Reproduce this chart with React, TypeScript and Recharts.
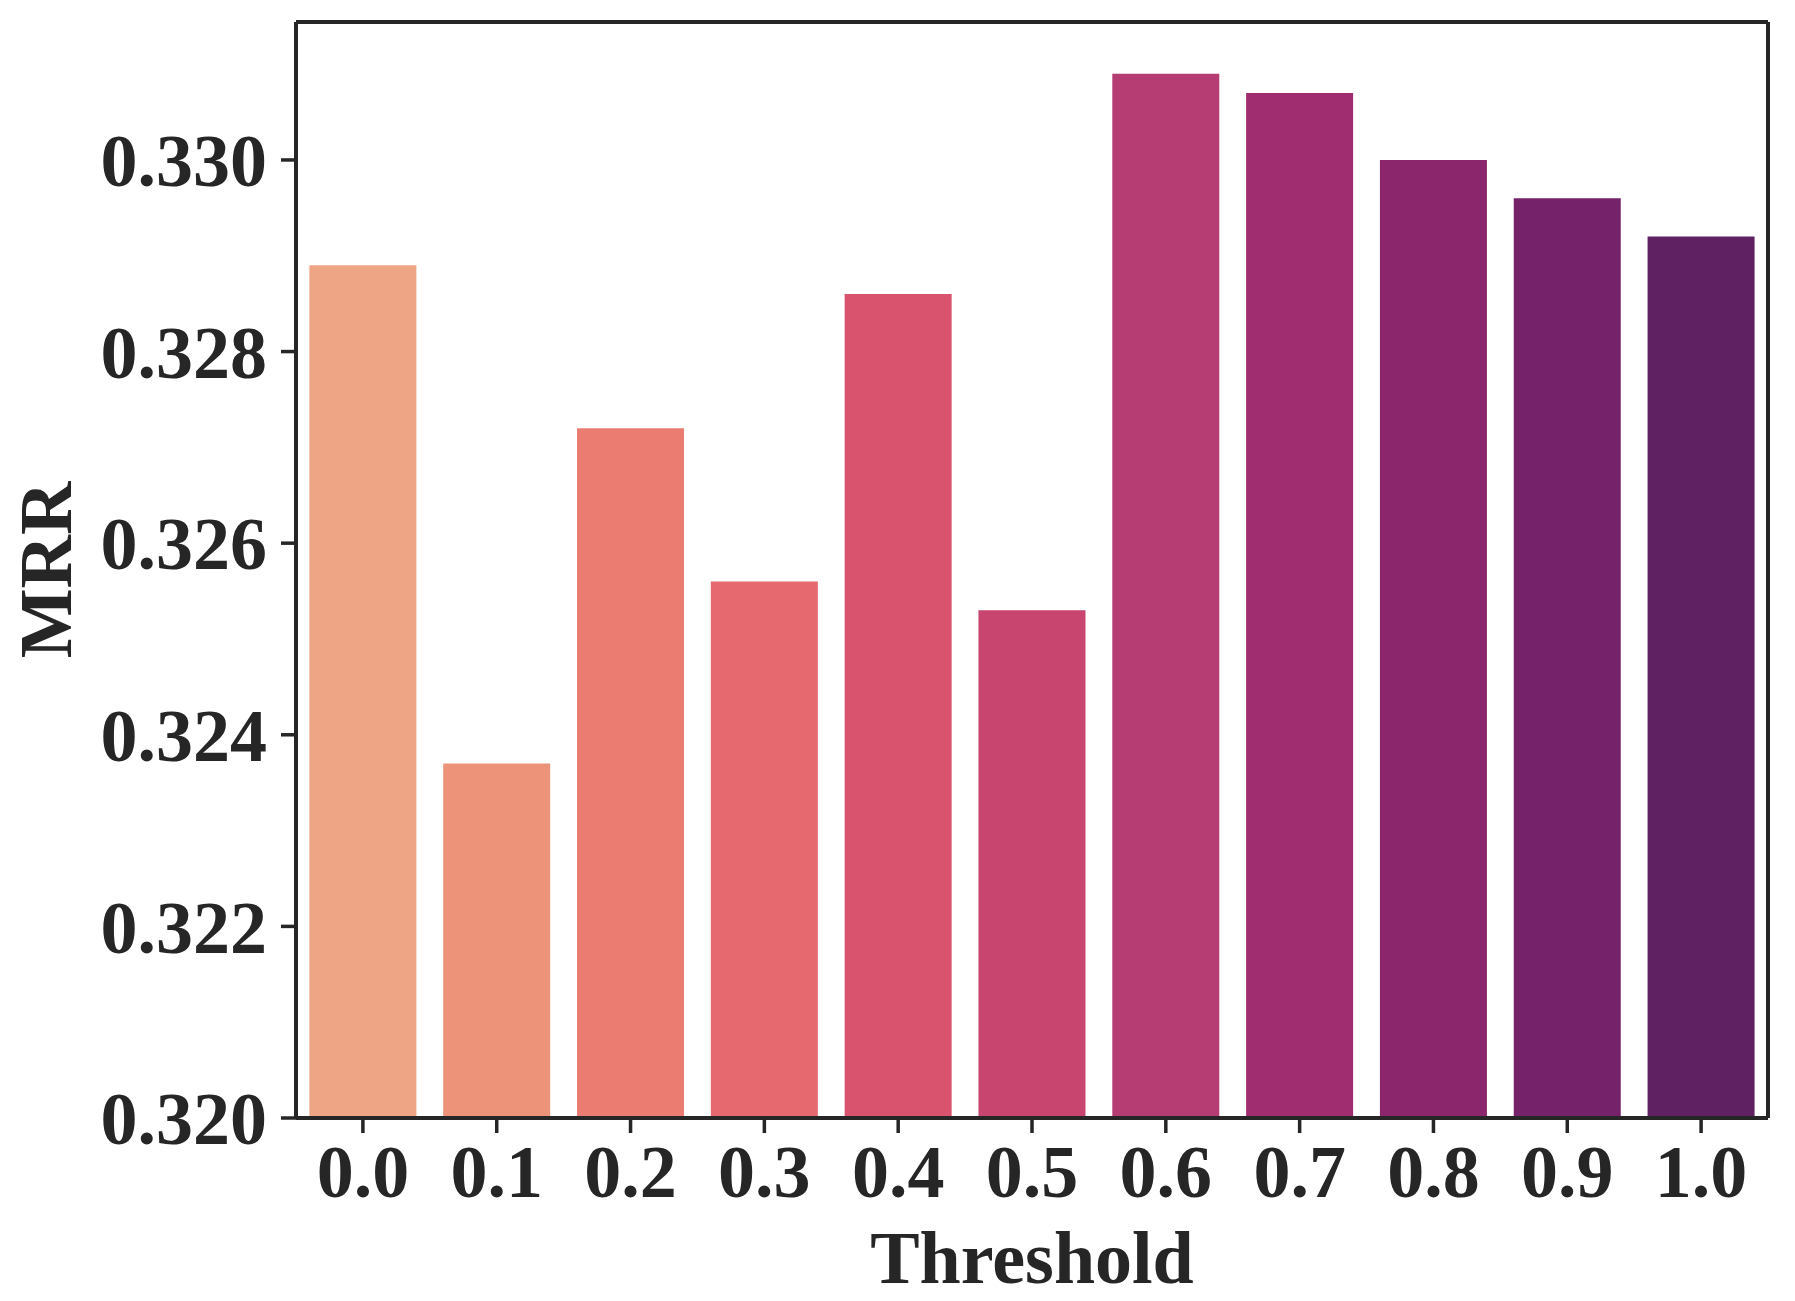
import { BarChart, Bar, Cell, XAxis, YAxis, CartesianGrid } from 'recharts'

const thresholds = ['0.0', '0.1', '0.2', '0.3', '0.4', '0.5', '0.6', '0.7', '0.8', '0.9', '1.0']
const mrr = [0.3289, 0.3237, 0.3272, 0.3256, 0.3286, 0.3253, 0.3309, 0.3307, 0.33, 0.3296, 0.3292]
const barColors = [
  '#eda586', '#ec937a', '#ea7c72', '#e5696e', '#d9536f', '#c8456f',
  '#b63c74', '#a12d71', '#8b266d', '#76226b', '#602163',
]
const yTicks = [0.32, 0.322, 0.324, 0.326, 0.328, 0.33]

const INK = '#262626'
const FONT = '"Liberation Serif", "Times New Roman", serif'

const tickStyle = { fontSize: 74, fontFamily: FONT, fontWeight: 'bold', fill: INK }

export default function App() {
  const data = thresholds.map((t, i) => ({ threshold: t, mrr: mrr[i] }))

  return (
    <div style={{ position: 'absolute', left: 0, top: 0, background: '#fff' }}>
      <BarChart
        width={1795}
        height={1301}
        data={data}
        margin={{ top: 22, right: 27, bottom: 0, left: 0 }}
        barCategoryGap="10%"
      >
        {/* top and right spines of the frame */}
        <CartesianGrid
          stroke={INK}
          strokeWidth={4}
          strokeDasharray="0"
          horizontalCoordinatesGenerator={({ offset }: any) => [offset.top]}
          verticalCoordinatesGenerator={({ offset }: any) => [offset.left + offset.width]}
        />
        <XAxis
          dataKey="threshold"
          height={183}
          tick={tickStyle}
          tickSize={15}
          tickMargin={11}
          tickLine={{ stroke: INK, strokeWidth: 3.5 }}
          axisLine={{ stroke: INK, strokeWidth: 4 }}
          label={{
            value: 'Threshold',
            position: 'insideBottom',
            offset: 18,
            style: { fontSize: 74, fontFamily: FONT, fontWeight: 'bold', fill: INK },
          }}
        />
        <YAxis
          width={296}
          domain={[0.32, 0.33144]}
          ticks={yTicks}
          allowDataOverflow
          tickFormatter={(v: number) => v.toFixed(3)}
          tick={tickStyle}
          tickSize={15}
          tickMargin={14}
          tickLine={{ stroke: INK, strokeWidth: 3.5 }}
          axisLine={{ stroke: INK, strokeWidth: 4 }}
          label={{
            content: ({ viewBox }: any) => {
              const cx = viewBox.x + 71
              const cy = viewBox.y + viewBox.height / 2
              return (
                <text
                  x={cx}
                  y={cy}
                  transform={`rotate(-90 ${cx} ${cy})`}
                  textAnchor="middle"
                  style={{ fontSize: 74, fontFamily: FONT, fontWeight: 'bold', fill: INK }}
                >
                  MRR
                </text>
              )
            },
          }}
        />
        <Bar dataKey="mrr" isAnimationActive={false}>
          {data.map((d, i) => (
            <Cell key={d.threshold} fill={barColors[i]} />
          ))}
        </Bar>
      </BarChart>
    </div>
  )
}
